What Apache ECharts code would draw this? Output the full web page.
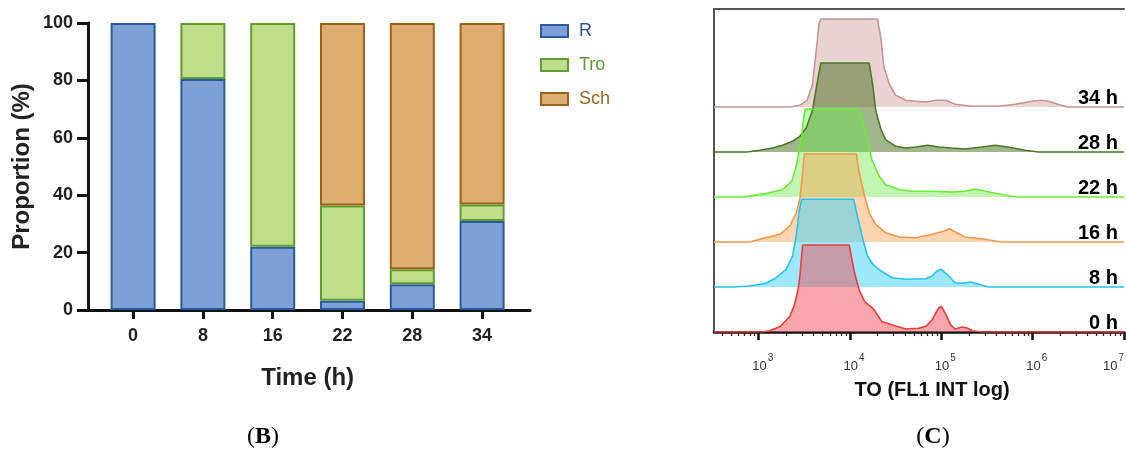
<!DOCTYPE html>
<html><head><meta charset="utf-8">
<script src="https://cdn.jsdelivr.net/npm/echarts@6/dist/echarts.min.js"></script>
<style>html,body{margin:0;padding:0;background:#fff}#c{width:1127px;height:455px}</style>
</head><body><div id="c"></div>
<script>
// ---------- Panel B data ----------
const timeCats = ['0', '8', '16', '22', '28', '34'];
const rValues   = [100, 80.5, 22, 3.2, 9, 31];
const troValues = [0, 19.5, 78, 33.2, 5.2, 5.8];
const schValues = [0, 0, 0, 63.6, 85.8, 63.2];

// ---------- Panel C data: [log10(FL1), count] ----------
const decadeTicks = [3, 4, 5, 6, 7];
const ridgeNames = ['0 h', '8 h', '16 h', '22 h', '28 h', '34 h'];
const hist0h = [[2.51,0],[3.04,0],[3.12,1.3],[3.23,5.3],[3.34,15.3],[3.39,27],[3.43,42],[3.45,55.3],[3.48,87],[3.99,87],[4.05,58.7],[4.10,42],[4.16,30.3],[4.25,23.7],[4.35,10.3],[4.50,6],[4.61,3],[4.75,3.7],[4.83,5.7],[4.90,12.3],[4.97,24],[5.00,25.7],[5.05,17.3],[5.10,7.3],[5.15,3],[5.23,5],[5.28,4],[5.34,1.3],[5.44,0],[7,0]];
const hist8h = [[2.51,0],[2.72,0],[2.90,1],[3.08,3.7],[3.19,9.3],[3.30,17.7],[3.37,31],[3.41,51],[3.44,74],[3.47,87.7],[4.04,87.7],[4.08,71],[4.14,47.7],[4.19,31],[4.25,22.7],[4.34,16],[4.46,9.3],[4.61,7.7],[4.83,8.3],[4.90,11],[4.95,16],[5.00,17.7],[5.06,12.7],[5.15,4.3],[5.23,3.7],[5.32,5],[5.41,2.7],[5.52,0],[7,0]];
const hist16h = [[2.51,0],[2.90,0],[2.97,1.7],[3.08,4.3],[3.23,7.7],[3.34,16],[3.41,29],[3.45,42.7],[3.48,69],[3.50,88],[4.07,88],[4.10,69],[4.16,46],[4.21,29],[4.28,17.7],[4.39,9.3],[4.54,5],[4.72,4.3],[4.90,7.7],[5.03,11],[5.09,13.3],[5.15,10],[5.26,5],[5.44,3.3],[5.59,1],[5.66,0],[7,0]];
const hist22h = [[2.51,0],[2.83,0],[2.87,0.6],[3.09,3.6],[3.26,7.3],[3.36,15.6],[3.40,27],[3.43,40],[3.47,60],[3.49,78],[3.51,88],[4.09,88],[4.12,80],[4.16,68],[4.19,57],[4.24,37],[4.32,20.7],[4.39,12.3],[4.54,7.3],[4.68,5.7],[4.90,5.7],[5.12,5],[5.26,5.7],[5.37,8],[5.48,5.7],[5.63,3],[5.77,0.7],[5.84,0],[7,0]];
const hist28h = [[2.51,0],[2.87,0],[3.01,1.7],[3.15,4],[3.26,6.7],[3.37,10.7],[3.45,15.7],[3.52,24],[3.59,42],[3.64,69],[3.68,89],[4.21,89],[4.25,65.7],[4.28,42],[4.34,22],[4.39,12.3],[4.50,5.7],[4.61,4],[4.72,5],[4.85,6.7],[4.97,5],[5.11,4],[5.26,3],[5.44,5],[5.59,6.7],[5.74,4.7],[5.92,1.7],[6.06,0],[7,0]];
const hist34h = [[2.51,0],[3.34,0],[3.45,1.7],[3.53,6.7],[3.59,23],[3.63,57],[3.66,83],[3.68,88],[4.30,88],[4.34,67],[4.37,40],[4.43,23],[4.50,11.7],[4.61,6.7],[4.72,5.7],[4.83,5],[4.94,6.7],[5.05,6.7],[5.15,2.7],[5.33,0.7],[5.63,0.7],[5.81,2.7],[5.99,5.7],[6.10,6.7],[6.20,5],[6.31,1.7],[6.39,0],[7,0]];
const histograms = [hist0h, hist8h, hist16h, hist22h, hist28h, hist34h];

// ---------- styles ----------
const SANS = '"Liberation Sans", Arial, Helvetica, sans-serif';
const SERIF = '"Liberation Serif", "Times New Roman", serif';
const ridgeStep = 45;
const ridgeStyles = [
  { line: '#ee3b3b', fill: 'rgba(240,80,90,0.5)' },
  { line: '#22c4ee', fill: 'rgba(60,210,245,0.5)' },
  { line: '#f79646', fill: 'rgba(250,160,80,0.45)' },
  { line: '#66ee33', fill: 'rgba(100,230,60,0.4)' },
  { line: '#4c7a22', fill: 'rgba(70,110,30,0.5)' },
  { line: '#c89595', fill: 'rgba(200,130,130,0.35)' }
];

const minorTicks = [];
for (let d = 2; d <= 6; d++) for (let k = 2; k <= 9; k++) {
  const v = d + Math.log10(k);
  if (v > 2.51 && v < 7) minorTicks.push(v);
}

const nz = v => (v === 0 ? '-' : v);
const barSeries = [
  { name: 'R', vals: rValues, fill: '#7da0d6', border: '#2c5aa0' },
  { name: 'Tro', vals: troValues, fill: '#c0de8a', border: '#5c9f2e' },
  { name: 'Sch', vals: schValues, fill: '#ddae70', border: '#9c6318' }
].map(s => ({
  name: s.name, type: 'bar', stack: 'total', xAxisIndex: 0, yAxisIndex: 0,
  barWidth: 45,
  itemStyle: { color: s.fill, borderColor: s.border, borderWidth: 2 },
  data: s.vals.map(nz)
}));

const ridgeSeries = [];
for (let i = histograms.length - 1; i >= 0; i--) {
  const off = i * ridgeStep;
  ridgeSeries.push({
    name: ridgeNames[i], type: 'line', xAxisIndex: 1, yAxisIndex: 1,
    symbol: 'none', smooth: false,
    lineStyle: { color: ridgeStyles[i].line, width: 1.6 },
    areaStyle: { color: ridgeStyles[i].fill, origin: off, opacity: 1 },
    data: histograms[i].map(([e, c]) => [e, c + off])
  });
}

const chart = echarts.init(document.getElementById('c'), null, { renderer: 'canvas' });
chart.setOption({
  animation: false,
  backgroundColor: '#fff',
  textStyle: { fontFamily: SANS },
  grid: [
    { left: 98.2, right: 610, top: 23, bottom: 145 },
    { left: 714, right: 1, top: 9, bottom: 123 },
    { left: 88, right: 597, top: 23, bottom: 145 }
  ],
  legend: {
    orient: 'vertical', left: 535, top: 16, itemWidth: 27, itemHeight: 12, itemGap: 14,
    icon: 'rect',
    textStyle: { fontSize: 18, fontFamily: SANS, lineHeight: 20, padding: [0, 0, 0, 6] },
    data: [
      { name: 'R', textStyle: { color: '#2e5597' } },
      { name: 'Tro', textStyle: { color: '#5a9e2e' } },
      { name: 'Sch', textStyle: { color: '#9c6418' } }
    ]
  },
  xAxis: [
    {
      gridIndex: 0, type: 'category', data: timeCats, boundaryGap: true,
      axisLine: { show: false },
      axisTick: { show: true, alignWithLabel: true, length: 9, lineStyle: { color: '#111', width: 3 } },
      axisLabel: { fontSize: 18, fontWeight: 'bold', color: '#222', margin: 17 },
      splitLine: { show: false },
      name: 'Time (h)', nameLocation: 'middle', nameGap: 56,
      nameTextStyle: { fontSize: 24, fontWeight: 'bold', color: '#222', padding: [0, 0, 0, 0] }
    },
    {
      gridIndex: 1, type: 'value', min: 2.51, max: 7,
      axisLine: { show: true, lineStyle: { color: '#111', width: 2.5 } },
      axisTick: { show: true, customValues: decadeTicks, length: 8, lineStyle: { color: '#111', width: 2.5 } },
      axisLabel: {
        customValues: decadeTicks, margin: 21, alignMaxLabel: 'right', padding: [0, 0, 0, 8],
        formatter: v => '{b|10}{s|' + Math.round(v) + '}',
        rich: {
          b: { fontSize: 13, color: '#333', fontFamily: SANS, verticalAlign: 'bottom' },
          s: { fontSize: 10, color: '#333', fontFamily: SANS, verticalAlign: 'bottom', padding: [0, 0, 10, 1] }
        }
      },
      splitLine: { show: false },
      name: 'TO (FL1 INT log)', nameLocation: 'middle', nameGap: 48,
      nameTextStyle: { fontSize: 20, fontWeight: 'bold', color: '#111', padding: [0, 0, 0, 26] }
    },
    {
      gridIndex: 1, type: 'value', min: 2.51, max: 7, position: 'bottom',
      axisLine: { show: false },
      axisTick: { show: true, customValues: minorTicks, length: 4, lineStyle: { color: '#222', width: 1.3 } },
      axisLabel: { show: false }, splitLine: { show: false }
    },
    {
      gridIndex: 1, type: 'value', min: 2.51, max: 7, position: 'top',
      axisLine: { show: true, lineStyle: { color: '#555', width: 2 } },
      axisTick: { show: false }, axisLabel: { show: false }, splitLine: { show: false }
    },
    {
      gridIndex: 2, type: 'value', min: 0, max: 1,
      axisLine: { show: true, lineStyle: { color: '#111', width: 3 } },
      axisTick: { show: false }, axisLabel: { show: false }, splitLine: { show: false }
    }
  ],
  yAxis: [
    {
      gridIndex: 0, type: 'value', min: 0, max: 100, interval: 20, offset: 10.2,
      axisLine: { show: true, lineStyle: { color: '#111', width: 3 } },
      axisTick: { show: true, length: 11, lineStyle: { color: '#111', width: 3 } },
      axisLabel: { fontSize: 18, fontWeight: 'bold', color: '#222', margin: 15 },
      splitLine: { show: false },
      name: 'Proportion (%)', nameLocation: 'middle', nameGap: 54, nameRotate: 90,
      nameTextStyle: { fontSize: 24, fontWeight: 'bold', color: '#222' }
    },
    {
      gridIndex: 1, type: 'value', min: 0, max: 323,
      axisLine: { show: true, lineStyle: { color: '#555', width: 2 } },
      axisTick: { show: false }, axisLabel: { show: false }, splitLine: { show: false }
    },
    {
      gridIndex: 2, type: 'value', min: 0, max: 1, show: false
    }
  ],
  series: [...barSeries, ...ridgeSeries]
});

const gfx = [
  { type: 'text', x: 263, y: 437, style: { text: '{p|(}{b|B}{p|)}', align: 'center', verticalAlign: 'middle',
      rich: { p: { font: '24px ' + SERIF, fill: '#000' }, b: { font: 'bold 24px ' + SERIF, fill: '#000' } } } },
  { type: 'text', x: 933, y: 437, style: { text: '{p|(}{b|C}{p|)}', align: 'center', verticalAlign: 'middle',
      rich: { p: { font: '24px ' + SERIF, fill: '#000' }, b: { font: 'bold 24px ' + SERIF, fill: '#000' } } } }
];
ridgeNames.forEach((n, i) => {
  const p = chart.convertToPixel({ xAxisIndex: 1, yAxisIndex: 1 }, [7, i * ridgeStep]);
  gfx.push({ type: 'text', x: p[0] - 6, y: p[1] - 9, z: 100,
    style: { text: n, align: 'right', verticalAlign: 'middle', font: 'bold 20px ' + SANS, fill: '#000' } });
});
chart.setOption({ graphic: gfx });
</script>
</body></html>
